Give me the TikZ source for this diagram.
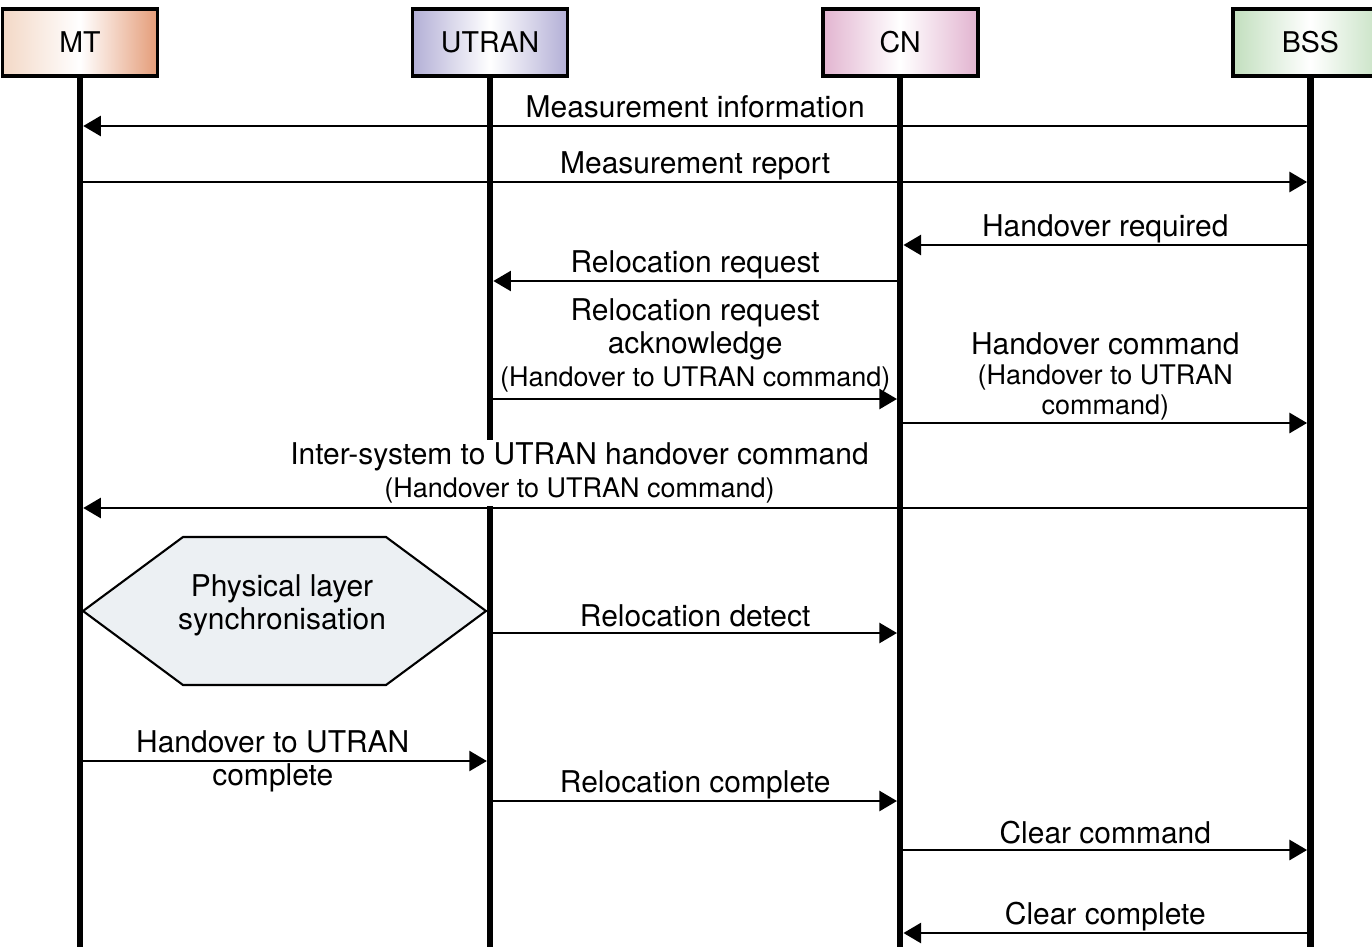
\documentclass[tikz,border=0pt]{standalone}
\usepackage{fontspec}
\setmainfont{TeX Gyre Heros}
\usetikzlibrary{positioning,arrows.meta}
\definecolor{mtpeach}{HTML}{F3D8C6}
\definecolor{mtorange}{HTML}{E49C78}
\definecolor{utranblue}{HTML}{B3AFD6}
\definecolor{cnpink}{HTML}{E2B4D0}
\definecolor{bssgreen}{HTML}{C2DFBE}
\definecolor{hexfill}{HTML}{ECF0F3}
\newcommand{\msgfont}{\fontsize{21.3pt}{23.5pt}\selectfont}
\newcommand{\smallmsg}{\fontsize{19.2pt}{22pt}\selectfont}

\begin{document}
\begin{tikzpicture}[x=0.025cm, y=-0.025cm, node distance={10.25cm},
  main/.style = {draw, line width=2.6pt, minimum width=3.875cm, minimum height=1.675cm, font=\fontsize{20.3pt}{22pt}\selectfont},
  life/.style = {line width=4.5pt},
  msg/.style = {line width=1.8pt, -{Triangle[length=0.44cm,width=0.5cm]}, shorten >=2.3pt},
  lbl/.style = {font=\msgfont, inner sep=0pt, text height=0.75em, text depth=0.21em, above=3pt},
  multi/.style = {font=\msgfont, align=center, inner sep=0pt}]
\useasboundingbox (0,0) rectangle (1372,946);
\node[main, left color=mtpeach, right color=mtorange, middle color=white] (1) at (80,42.5) {MT};
\node[main, left color=utranblue, right color=utranblue, middle color=white] (2) [right of=1] {UTRAN};
\node[main, left color=cnpink, right color=cnpink, middle color=white] (3) [right of=2] {CN};
\node[main, left color=bssgreen, right color=bssgreen, middle color=white] (4) [right of=3] {BSS};
\draw[life] (1.south) -- (1 |- 0,950);
\draw[life] (2.south) -- (2 |- 0,950);
\draw[life] (3.south) -- (3 |- 0,950);
\draw[life] (4.south) -- (4 |- 0,950);
\draw[msg] (4 |- 0,126) -- node[lbl] {Measurement information} (1 |- 0,126);
\draw[msg] (1 |- 0,182) -- node[lbl] {Measurement report} (4 |- 0,182);
\draw[msg] (4 |- 0,245) -- node[lbl] {Handover required} (3 |- 0,245);
\draw[msg] (3 |- 0,281) -- node[lbl] {Relocation request} (2 |- 0,281);
\draw[msg] (2 |- 0,399) -- node[multi, above=3.6pt] {Relocation request\\acknowledge\\{\smallmsg (Handover to UTRAN command)}} (3 |- 0,399);
\draw[msg] (3 |- 0,423) -- node[multi, above=1.4pt] {Handover command\\[-2.5pt]{\smallmsg (Handover to UTRAN}\\[-2.5pt]{\smallmsg command)}} (4 |- 0,423);
\draw[msg] (4 |- 0,508) -- node[multi, pos=0.594, fill=white, inner xsep=3pt, inner ysep=2pt, above=0.6pt] {Inter-system to UTRAN handover command\\{\smallmsg (Handover to UTRAN command)}} (1 |- 0,508);
% hexagon between MT and UTRAN
\draw[line width=1.5pt, fill=hexfill] (83,611) -- (183,537) -- (386,537) -- (486,611) -- (386,685) -- (183,685) -- cycle;
\node[multi] (sync) at (282,605) {Physical layer\\synchronisation};
\draw[msg] (2 |- 0,633) -- node[lbl, above=1.5pt] {Relocation detect} (3 |- 0,633);
\draw[msg] (1 |- 0,761) -- node[multi, pos=0.47] {Handover to UTRAN\\complete} (2 |- 0,761);
\draw[msg] (2 |- 0,801) -- node[lbl] {Relocation complete} (3 |- 0,801);
\draw[msg] (3 |- 0,850) -- node[lbl, above=1.5pt] {Clear command} (4 |- 0,850);
\draw[msg] (4 |- 0,933) -- node[lbl] {Clear complete} (3 |- 0,933);
\end{tikzpicture}
\end{document}
